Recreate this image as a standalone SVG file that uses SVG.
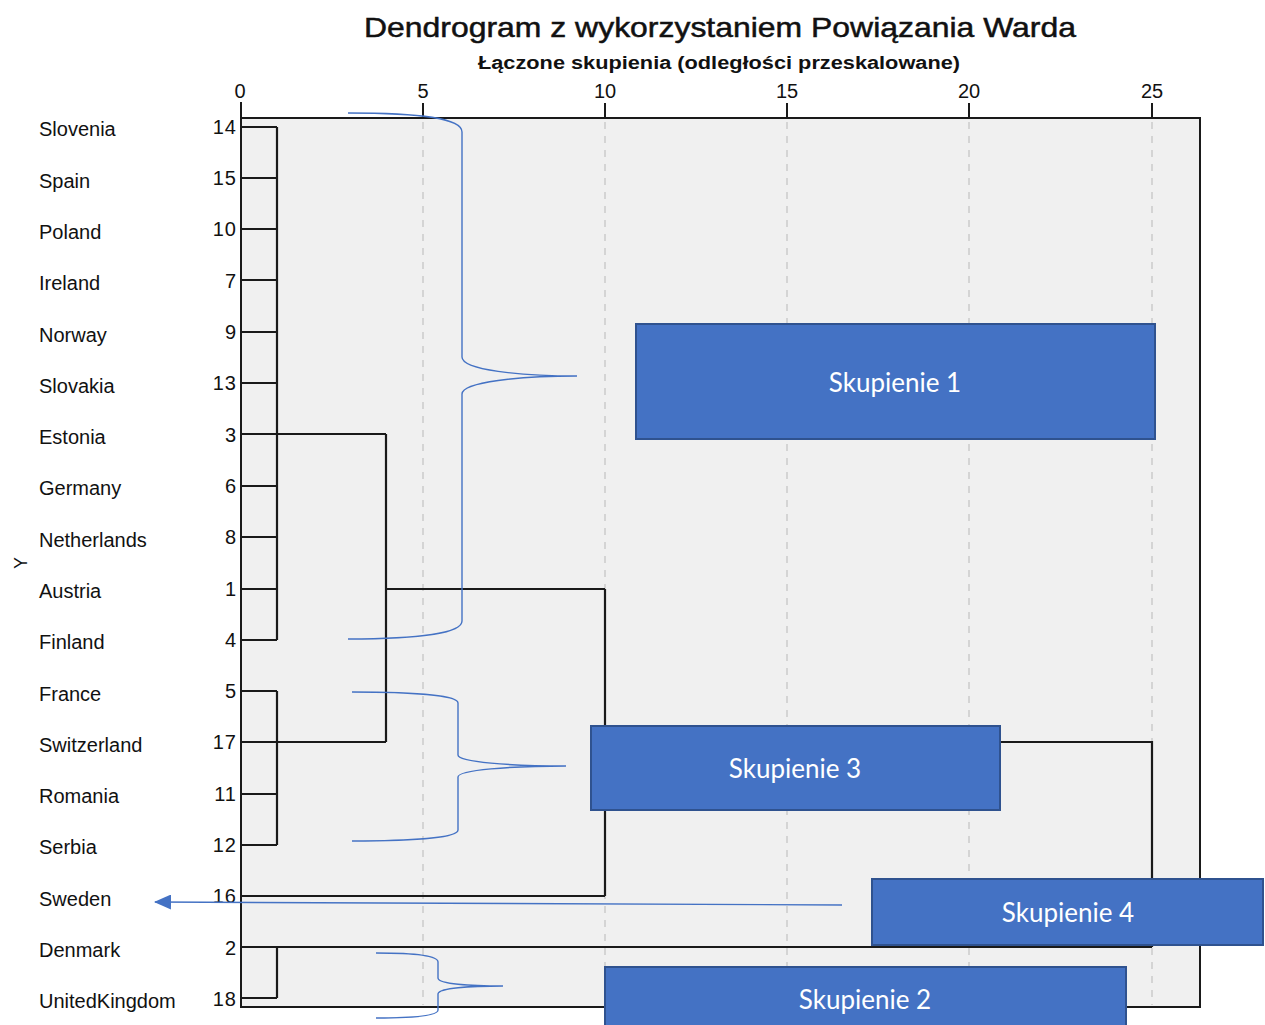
<svg xmlns="http://www.w3.org/2000/svg" width="1265" height="1025" viewBox="0 0 1265 1025">
<style>
.lbl{font-family:"Liberation Sans",Arial,sans-serif;font-size:20px;fill:#111}
.num{font-family:"Liberation Sans",Arial,sans-serif;font-size:20px;fill:#111;text-anchor:end;letter-spacing:1px}
.tick{font-family:"Liberation Sans",Arial,sans-serif;font-size:20px;fill:#111;text-anchor:middle}
.grid{stroke:#d4d4d4;stroke-width:2;stroke-dasharray:7,7}
.dl{fill:none;stroke:#1a1a1a;stroke-width:2.2}
.brace{fill:none;stroke:#4472C4;stroke-width:1.4}
.box{fill:#4472C4;stroke:#2F528F;stroke-width:2}
.boxt{font-family:Lato,"Open Sans",sans-serif;font-size:26px;fill:#fff;text-anchor:middle}
</style>
<defs>
<marker id="ah" markerWidth="17" markerHeight="15" refX="16" refY="7.5" orient="auto" markerUnits="userSpaceOnUse" viewBox="0 0 17 15">
<path d="M0,0 L17,7.5 L0,15 z" fill="#4472C4"/>
</marker>
</defs>
<rect width="1265" height="1025" fill="#fff"/>
<text x="720" y="37" font-family="Liberation Sans,Arial,sans-serif" font-size="28" fill="#111" text-anchor="middle" textLength="712" lengthAdjust="spacingAndGlyphs" stroke="#111" stroke-width="0.5">Dendrogram z wykorzystaniem Powiązania Warda</text>
<text x="719" y="69" font-family="Liberation Sans,Arial,sans-serif" font-size="18" font-weight="bold" fill="#111" text-anchor="middle" textLength="482" lengthAdjust="spacingAndGlyphs">Łączone skupienia (odległości przeskalowane)</text>
<g id="axis">
<rect x="241" y="118" width="959" height="889" fill="#f0f0f0" stroke="#1a1a1a" stroke-width="2"/>
<line class="grid" x1="423" y1="122" x2="423" y2="1005"/>
<line class="grid" x1="605" y1="122" x2="605" y2="1005"/>
<line class="grid" x1="787" y1="122" x2="787" y2="1005"/>
<line class="grid" x1="969" y1="122" x2="969" y2="1005"/>
<line class="grid" x1="1152" y1="122" x2="1152" y2="1005"/>
<g stroke="#1a1a1a" stroke-width="2">
<line x1="241" y1="102" x2="241" y2="1007"/>
<line x1="423" y1="103" x2="423" y2="118"/>
<line x1="605" y1="103" x2="605" y2="118"/>
<line x1="787" y1="103" x2="787" y2="118"/>
<line x1="969" y1="103" x2="969" y2="118"/>
<line x1="1152" y1="103" x2="1152" y2="118"/>
</g>
<text class="tick" x="240" y="98">0</text>
<text class="tick" x="423" y="98">5</text>
<text class="tick" x="605" y="98">10</text>
<text class="tick" x="787" y="98">15</text>
<text class="tick" x="969" y="98">20</text>
<text class="tick" x="1152" y="98">25</text>
<text x="27" y="563" font-family="Liberation Sans,Arial,sans-serif" font-size="18" fill="#111" text-anchor="middle" transform="rotate(-90 27 563)">Y</text>
</g>
<g id="labels">
<text class="lbl" x="39" y="136">Slovenia</text><text class="num" x="237" y="134">14</text>
<text class="lbl" x="39" y="188">Spain</text><text class="num" x="237" y="185">15</text>
<text class="lbl" x="39" y="239">Poland</text><text class="num" x="237" y="236">10</text>
<text class="lbl" x="39" y="290">Ireland</text><text class="num" x="237" y="288">7</text>
<text class="lbl" x="39" y="342">Norway</text><text class="num" x="237" y="339">9</text>
<text class="lbl" x="39" y="393">Slovakia</text><text class="num" x="237" y="390">13</text>
<text class="lbl" x="39" y="444">Estonia</text><text class="num" x="237" y="442">3</text>
<text class="lbl" x="39" y="495">Germany</text><text class="num" x="237" y="493">6</text>
<text class="lbl" x="39" y="547">Netherlands</text><text class="num" x="237" y="544">8</text>
<text class="lbl" x="39" y="598">Austria</text><text class="num" x="237" y="596">1</text>
<text class="lbl" x="39" y="649">Finland</text><text class="num" x="237" y="647">4</text>
<text class="lbl" x="39" y="701">France</text><text class="num" x="237" y="698">5</text>
<text class="lbl" x="39" y="752">Switzerland</text><text class="num" x="237" y="749">17</text>
<text class="lbl" x="39" y="803">Romania</text><text class="num" x="237" y="801">11</text>
<text class="lbl" x="39" y="854">Serbia</text><text class="num" x="237" y="852">12</text>
<text class="lbl" x="39" y="906">Sweden</text><text class="num" x="237" y="903">16</text>
<text class="lbl" x="39" y="957">Denmark</text><text class="num" x="237" y="955">2</text>
<text class="lbl" x="39" y="1008">UnitedKingdom</text><text class="num" x="237" y="1006">18</text>
</g>
<g id="connectors">
<path class="dl" d="M241,127H277M241,178H277M241,229H277M241,280H277M241,332H277M241,383H277M241,434H277M241,486H277M241,537H277M241,589H277M241,640H277M277,127V640"/>
<path class="dl" d="M241,691H277M241,742H277M241,794H277M241,845H277M277,691V845"/>
<path class="dl" d="M277,434H386M277,742H386M386,434V742M386,589H605"/>
<path class="dl" d="M241,896H605M605,589V896M605,742H1152V947M241,947H1152M277,947V998M241,998H277"/>
<path class="brace" d="M348,113 C420,113 462,118 462,132 V357 C462,370 520,376 577,376 C520,376 462,382 462,394 V621 C462,633 420,639 348,639"/>
<path class="brace" d="M352,692 C410,692 458,695 458,703 V755 C458,762 510,766 566,766 C510,766 458,770 458,777 V830 C458,838 410,841 352,841"/>
<path class="brace" d="M376,953 C410,953 438,955 438,962 V978 C438,984 470,986 503,986 C470,986 438,988 438,994 V1010 C438,1016 410,1018 376,1018"/>
<line x1="842" y1="905" x2="155" y2="902" stroke="#4472C4" stroke-width="1.4" marker-end="url(#ah)"/>
</g>
<g id="skupienie1">
<rect class="box" x="636" y="324" width="519" height="115"/>
<text class="boxt" x="895" y="392">Skupienie 1</text>
</g>
<g id="skupienie3">
<rect class="box" x="591" y="726" width="409" height="84"/>
<text class="boxt" x="795" y="778">Skupienie 3</text>
</g>
<g id="skupienie4">
<rect class="box" x="872" y="879" width="391" height="66"/>
<text class="boxt" x="1068" y="922">Skupienie 4</text>
</g>
<g id="skupienie2">
<rect class="box" x="605" y="967" width="521" height="70"/>
<text class="boxt" x="865" y="1009">Skupienie 2</text>
</g>
</svg>
